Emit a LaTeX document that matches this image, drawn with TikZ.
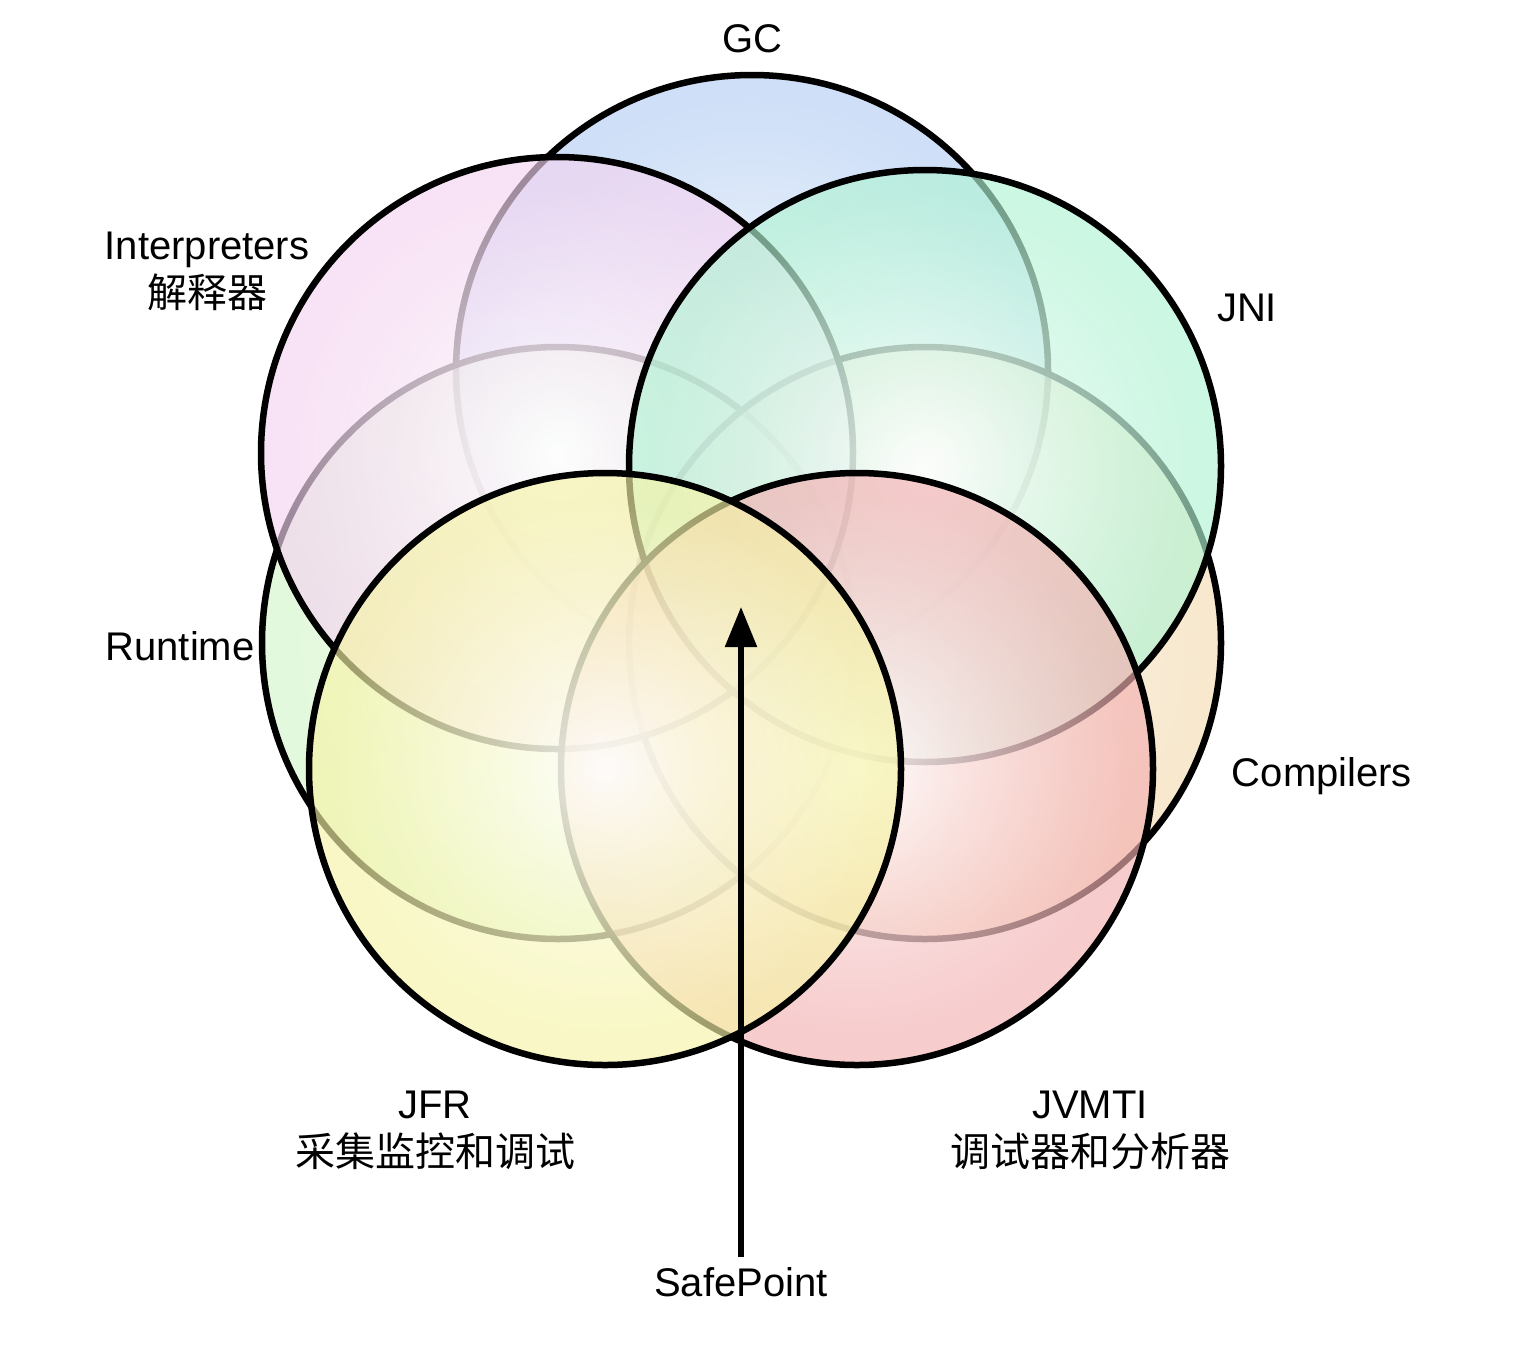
\documentclass[tikz,border=0pt]{standalone}
\usepackage{fontspec}
\setmainfont{Liberation Sans}
\newfontfamily\cjk{Noto Sans CJK SC}
\usetikzlibrary{arrows.meta,fadings}

\definecolor{cGC}{RGB}{181,207,243}
\definecolor{cIN}{RGB}{244,212,240}
\definecolor{cJN}{RGB}{178,243,212}
\definecolor{cRT}{RGB}{212,246,203}
\definecolor{cCO}{RGB}{244,221,181}
\definecolor{cJF}{RGB}{246,244,167}
\definecolor{cJV}{RGB}{243,177,178}

\pgfdeclareradialshading{shGC}{\pgfpointorigin}{color(0bp)=(white); color(23bp)=(cGC); color(50bp)=(cGC)}
\pgfdeclareradialshading{shIN}{\pgfpointorigin}{color(0bp)=(white); color(23bp)=(cIN); color(50bp)=(cIN)}
\pgfdeclareradialshading{shJN}{\pgfpointorigin}{color(0bp)=(white); color(23bp)=(cJN); color(50bp)=(cJN)}
\pgfdeclareradialshading{shRT}{\pgfpointorigin}{color(0bp)=(white); color(23bp)=(cRT); color(50bp)=(cRT)}
\pgfdeclareradialshading{shCO}{\pgfpointorigin}{color(0bp)=(white); color(23bp)=(cCO); color(50bp)=(cCO)}
\pgfdeclareradialshading{shJF}{\pgfpointorigin}{color(0bp)=(white); color(23bp)=(cJF); color(50bp)=(cJF)}
\pgfdeclareradialshading{shJV}{\pgfpointorigin}{color(0bp)=(white); color(23bp)=(cJV); color(50bp)=(cJV)}

\pgfdeclareradialshading{fadeshade}{\pgfpointorigin}{color(0bp)=(transparent!8); color(23bp)=(transparent!35); color(50bp)=(transparent!35)}
\pgfdeclarefading{cfade}{\pgfuseshading{fadeshade}}

\tikzset{
  ring/.style={draw=black, line width=6.5pt},
  lab/.style={font=\fontsize{40}{48}\selectfont, align=center, inner sep=0pt, anchor=base},
}

\begin{document}
\begin{tikzpicture}[x=1pt,y=-1pt]
\useasboundingbox (0,0) rectangle (1526,1350);
\fill[white] (0,0) rectangle (1526,1350);

% circles, bottom to top
\shade[shading=shGC, path fading=cfade] (752,371) circle (296);
\draw[ring] (752,371) circle (296);
\shade[shading=shRT, path fading=cfade] (558,643) circle (296);
\draw[ring] (558,643) circle (296);
\shade[shading=shCO, path fading=cfade] (925,643) circle (296);
\draw[ring] (925,643) circle (296);
\shade[shading=shIN, path fading=cfade] (557,453) circle (296);
\draw[ring] (557,453) circle (296);
\shade[shading=shJN, path fading=cfade] (925,466) circle (296);
\draw[ring] (925,466) circle (296);
\shade[shading=shJV, path fading=cfade] (857,769) circle (296);
\draw[ring] (857,769) circle (296);
\shade[shading=shJF, path fading=cfade] (605,769) circle (296);
\draw[ring] (605,769) circle (296);

% labels (multi-line nodes: base = last line)
\node[lab] (gc) at (752,52.5) {GC};
\node[lab] (interp) at (207,307.5) {Interpreters\\{\cjk 解释器}};
\node[lab] (jni) at (1247,321.5) {JNI};
\node[lab] (runtime) at (180,660) {Runtime};
\node[lab] (comp) at (1322,786) {Compilers};
\node[lab] (jfr) at (435,1166) {JFR\\{\cjk 采集监控和调试}};
\node[lab] (jvmti) at (1090,1166) {JVMTI\\{\cjk 调试器和分析器}};
\node[lab] (safepoint) at (741,1296) {SafePoint};

\coordinate (tip) at (741,607);
\draw[line width=5.5pt, shorten <=10pt, -{Triangle[length=40pt,width=31pt]}] (safepoint.north) -- (tip);
\end{tikzpicture}
\end{document}
